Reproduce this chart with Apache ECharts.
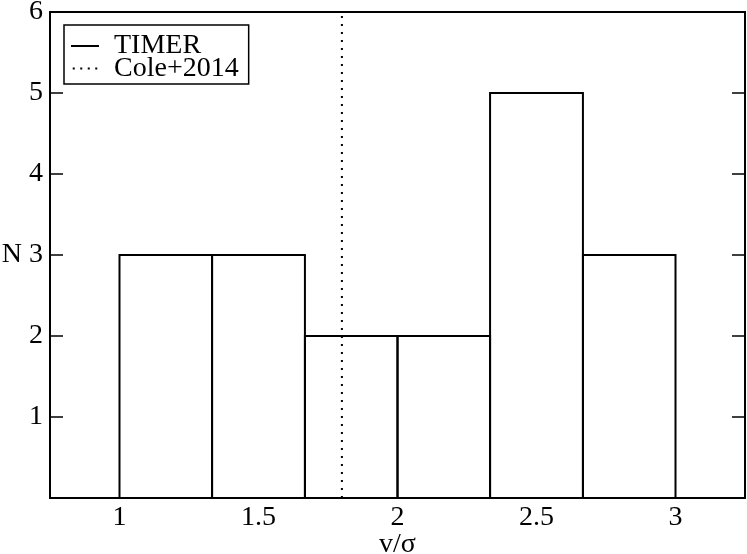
<!DOCTYPE html>
<html>
<head>
<meta charset="utf-8">
<script src="https://cdn.jsdelivr.net/npm/echarts@6/dist/echarts.min.js"></script>
<style>
html,body{margin:0;padding:0;background:#fff;}
#c{width:747px;height:554px;}
</style>
</head>
<body>
<div id="c"></div>
<script>
// Histogram bins (v/sigma) and counts
const binStarts = [1.0, 1.333, 1.667, 2.0, 2.333, 2.667];
const binEnds   = [1.333, 1.667, 2.0, 2.333, 2.667, 3.0];
const counts    = [3, 3, 2, 2, 5, 3];
// Cole+2014 reference value
const coleValue = 1.8;
const xTickLabels = [1, 1.5, 2, 2.5, 3];
const yTickLabels = [1, 2, 3, 4, 5, 6];

const histData = binStarts.map((s, i) => [s, binEnds[i], counts[i]]);
const FONT = 'Liberation Serif';
const FS = 28;

const chart = echarts.init(document.getElementById('c'), null, {renderer: 'canvas'});
chart.setOption({
  animation: false,
  backgroundColor: '#fff',
  grid: {left: 50, right: 2, top: 12, bottom: 56, outerBoundsMode: 'none', containLabel: false,
         show: true, borderColor: '#000', borderWidth: 2, backgroundColor: 'transparent'},
  legend: {
    left: 64, top: 25, orient: 'vertical',
    backgroundColor: '#fff', borderColor: '#000', borderWidth: 1.5, borderRadius: 0,
    padding: [7, 10, 1.5, 7], itemGap: -5.5, itemWidth: 28, itemHeight: 2,
    textStyle: {fontFamily: FONT, fontSize: FS, color: '#000', padding: [0, 0, 0, 10]},
    data: [
      {name: 'TIMER', icon: 'path://M0,0H28V2H0Z', itemStyle: {color: '#000'}},
      {name: 'Cole+2014', icon: 'path://M0,0H2V2H0Z M7.5,0H9.5V2H7.5Z M15,0H17V2H15Z M22.5,0H24.5V2H22.5Z', itemStyle: {color: '#000'}}
    ]
  },
  xAxis: {
    type: 'value', min: 0.75, max: 3.25, interval: 0.25,
    name: 'v/σ', nameLocation: 'middle', nameGap: 33, nameMoveOverlap: false,
    nameTextStyle: {fontFamily: FONT, fontSize: FS, color: '#000'},
    axisLine: {show: true, lineStyle: {color: '#000', width: 2}},
    axisTick: {show: false},
    splitLine: {show: false},
    axisLabel: {
      fontFamily: FONT, fontSize: FS, color: '#000', margin: 6,
      formatter: v => (xTickLabels.some(t => Math.abs(t - v) < 1e-6) ? String(v) : '')
    }
  },
  yAxis: [{
    type: 'value', min: 0, max: 6, interval: 1,
    name: 'N', nameLocation: 'middle', nameGap: 28, nameRotate: 0, nameMoveOverlap: false,
    nameTextStyle: {fontFamily: FONT, fontSize: FS, color: '#000'},
    axisLine: {show: true, lineStyle: {color: '#000', width: 2}},
    axisTick: {show: true, inside: true, length: 13, lineStyle: {color: '#000', width: 1.5}},
    splitLine: {show: false},
    axisLabel: {
      fontFamily: FONT, fontSize: FS, color: '#000', margin: 7,
      formatter: v => (yTickLabels.indexOf(v) >= 0 ? String(v) : '')
    }
  }, {
    type: 'value', min: 0, max: 6, interval: 1, position: 'right',
    axisLine: {show: true, lineStyle: {color: '#000', width: 2}},
    axisTick: {show: true, inside: true, length: 13, lineStyle: {color: '#000', width: 1.5}},
    splitLine: {show: false},
    axisLabel: {show: false}
  }],
  series: [{
    name: 'TIMER',
    type: 'custom',
    data: histData,
    encode: {x: [0, 1], y: 2},
    renderItem: function (params, api) {
      const p0 = api.coord([api.value(0), api.value(2)]);
      const p1 = api.coord([api.value(1), 0]);
      return {
        type: 'rect',
        shape: {x: p0[0], y: p0[1], width: p1[0] - p0[0], height: p1[1] - p0[1]},
        style: {fill: 'none', stroke: '#000', lineWidth: 2}
      };
    },
    z: 2
  }, {
    name: 'Cole+2014',
    type: 'line',
    data: [[coleValue, 0], [coleValue, 6]],
    symbol: 'none',
    lineStyle: {color: '#000', width: 2, type: [2, 6]},
    z: 3
  }]
});
</script>
</body>
</html>
